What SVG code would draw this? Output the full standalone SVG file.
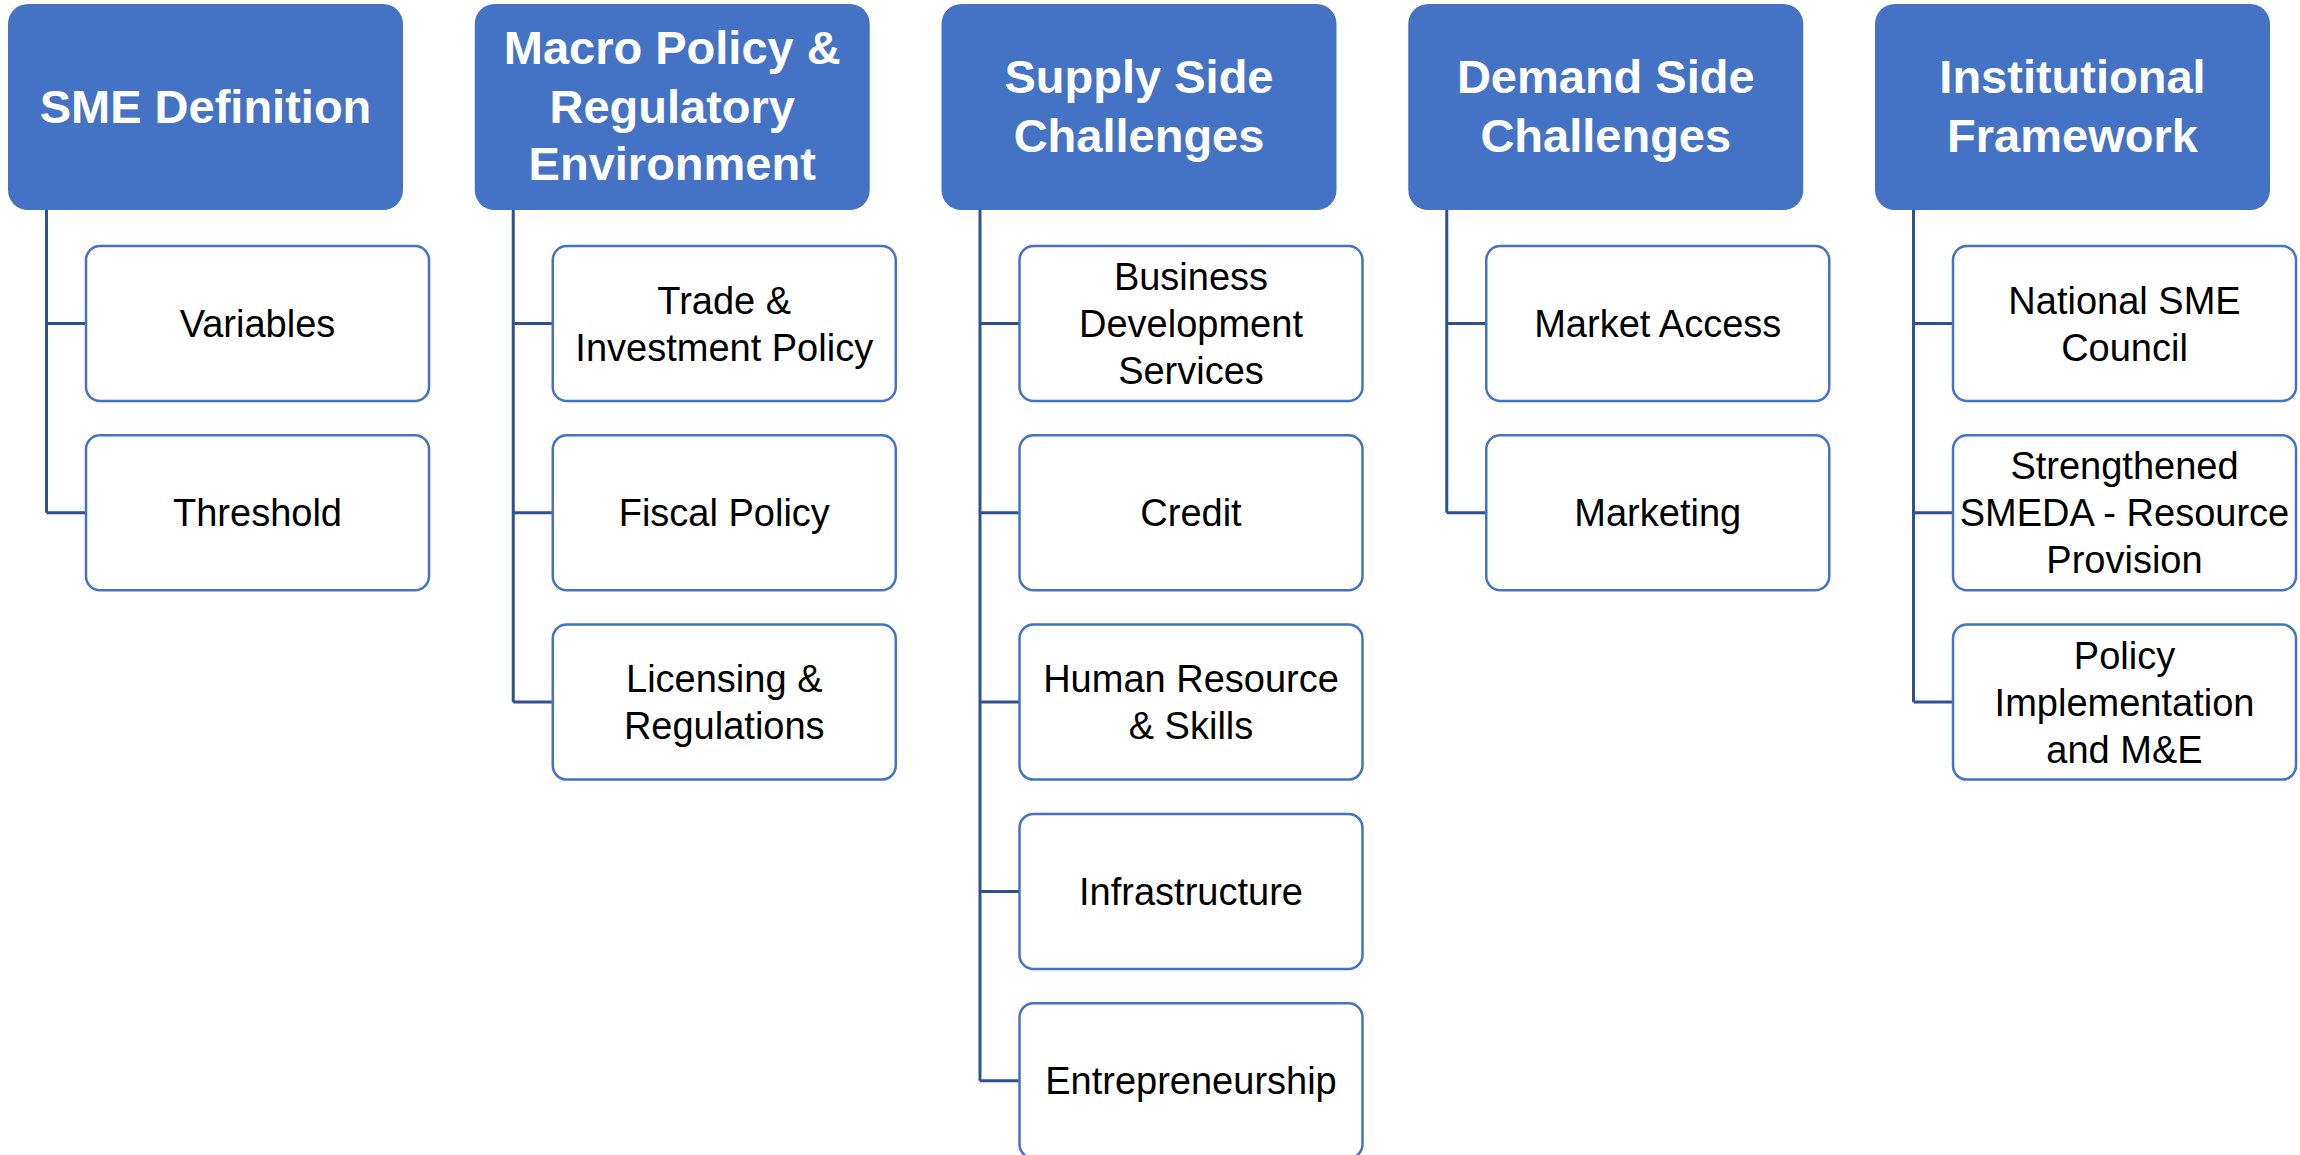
<svg xmlns="http://www.w3.org/2000/svg" width="2300" height="1155" viewBox="0 0 2300 1155">
<style>
.hdr{fill:#4472C4;}
.ht{font-family:"Liberation Sans",Arial,sans-serif;font-weight:bold;font-size:47px;fill:#FFFFFF;text-anchor:middle;}
.box{fill:#FFFFFF;stroke:#4472C4;stroke-width:2.5;}
.ct{font-family:"Liberation Sans",Arial,sans-serif;font-size:38px;fill:#000000;text-anchor:middle;}
.con{fill:none;stroke:#2F528F;stroke-width:3;}
</style>
<rect width="2300" height="1155" fill="#FFFFFF"/>
<g id="connectors">
<path class="con" d="M46.5,210 V512.8 M46.5,323.5 H86 M46.5,512.8 H86"/>
<path class="con" d="M513.25,210 V702.1 M513.25,323.5 H552.75 M513.25,512.8 H552.75 M513.25,702.1 H552.75"/>
<path class="con" d="M980,210 V1080.7 M980,323.5 H1019.5 M980,512.8 H1019.5 M980,702.1 H1019.5 M980,891.4 H1019.5 M980,1080.7 H1019.5"/>
<path class="con" d="M1446.75,210 V512.8 M1446.75,323.5 H1486.25 M1446.75,512.8 H1486.25"/>
<path class="con" d="M1913.5,210 V702.1 M1913.5,323.5 H1953 M1913.5,512.8 H1953 M1913.5,702.1 H1953"/>
</g>
<g id="h-sme"><rect class="hdr" x="8" y="4" width="395" height="206" rx="20"/><text class="ht" x="205.5" y="123">SME Definition</text></g>
<g id="h-macro"><rect class="hdr" x="474.75" y="4" width="395" height="206" rx="20"/><text class="ht" x="672.25" y="64">Macro Policy &amp;</text><text class="ht" x="672.25" y="122.6">Regulatory</text><text class="ht" x="672.25" y="180">Environment</text></g>
<g id="h-supply"><rect class="hdr" x="941.5" y="4" width="395" height="206" rx="20"/><text class="ht" x="1139" y="93">Supply Side</text><text class="ht" x="1139" y="152">Challenges</text></g>
<g id="h-demand"><rect class="hdr" x="1408.25" y="4" width="395" height="206" rx="20"/><text class="ht" x="1605.75" y="93">Demand Side</text><text class="ht" x="1605.75" y="152">Challenges</text></g>
<g id="h-inst"><rect class="hdr" x="1875" y="4" width="395" height="206" rx="20"/><text class="ht" x="2072.5" y="93">Institutional</text><text class="ht" x="2072.5" y="152">Framework</text></g>

<g id="c-variables"><rect class="box" x="86" y="246" width="343" height="155" rx="14"/><text class="ct" x="257.5" y="337.1">Variables</text></g>
<g id="c-threshold"><rect class="box" x="86" y="435.3" width="343" height="155" rx="14"/><text class="ct" x="257.5" y="526.4">Threshold</text></g>

<g id="c-trade"><rect class="box" x="552.75" y="246" width="343" height="155" rx="14"/><text class="ct" x="724.25" y="313.6">Trade &amp;</text><text class="ct" x="724.25" y="360.6">Investment Policy</text></g>
<g id="c-fiscal"><rect class="box" x="552.75" y="435.3" width="343" height="155" rx="14"/><text class="ct" x="724.25" y="526.4">Fiscal Policy</text></g>
<g id="c-licensing"><rect class="box" x="552.75" y="624.6" width="343" height="155" rx="14"/><text class="ct" x="724.25" y="692.2">Licensing &amp;</text><text class="ct" x="724.25" y="739.2">Regulations</text></g>

<g id="c-bds"><rect class="box" x="1019.5" y="246" width="343" height="155" rx="14"/><text class="ct" x="1191" y="290.1">Business</text><text class="ct" x="1191" y="337.1">Development</text><text class="ct" x="1191" y="384.1">Services</text></g>
<g id="c-credit"><rect class="box" x="1019.5" y="435.3" width="343" height="155" rx="14"/><text class="ct" x="1191" y="526.4">Credit</text></g>
<g id="c-hr"><rect class="box" x="1019.5" y="624.6" width="343" height="155" rx="14"/><text class="ct" x="1191" y="692.2">Human Resource</text><text class="ct" x="1191" y="739.2">&amp; Skills</text></g>
<g id="c-infra"><rect class="box" x="1019.5" y="813.9" width="343" height="155" rx="14"/><text class="ct" x="1191" y="905">Infrastructure</text></g>
<g id="c-entre"><rect class="box" x="1019.5" y="1003.2" width="343" height="155" rx="14"/><text class="ct" x="1191" y="1094.3">Entrepreneurship</text></g>

<g id="c-market"><rect class="box" x="1486.25" y="246" width="343" height="155" rx="14"/><text class="ct" x="1657.75" y="337.1">Market Access</text></g>
<g id="c-marketing"><rect class="box" x="1486.25" y="435.3" width="343" height="155" rx="14"/><text class="ct" x="1657.75" y="526.4">Marketing</text></g>

<g id="c-council"><rect class="box" x="1953" y="246" width="343" height="155" rx="14"/><text class="ct" x="2124.5" y="313.6">National SME</text><text class="ct" x="2124.5" y="360.6">Council</text></g>
<g id="c-smeda"><rect class="box" x="1953" y="435.3" width="343" height="155" rx="14"/><text class="ct" x="2124.5" y="479.4">Strengthened</text><text class="ct" x="2124.5" y="526.4">SMEDA - Resource</text><text class="ct" x="2124.5" y="573.4">Provision</text></g>
<g id="c-policy"><rect class="box" x="1953" y="624.6" width="343" height="155" rx="14"/><text class="ct" x="2124.5" y="668.7">Policy</text><text class="ct" x="2124.5" y="715.7">Implementation</text><text class="ct" x="2124.5" y="762.7">and M&amp;E</text></g>
</svg>
